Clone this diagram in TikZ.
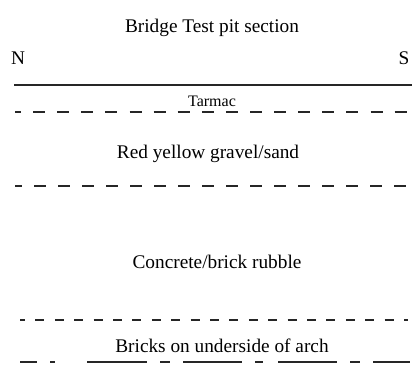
\documentclass[tikz,border=0pt]{standalone}
\usepackage{fontspec}
\setmainfont{Liberation Serif}
\begin{document}
\begin{tikzpicture}[x=1pt,y=-1pt,
  lbl/.style={anchor=base,inner sep=0pt,font=\fontsize{19.3}{22}\selectfont},
  smalllbl/.style={anchor=base,inner sep=0pt,font=\fontsize{16}{19}\selectfont},
  layer/.style={line width=1.1pt,black!85}]
\useasboundingbox (0,0) rectangle (414,372);

% headings
\node[lbl] (title) at (212,32) {Bridge Test pit section};
\node[lbl] (north) at (18,64) {N};
\node[lbl] (south) at (404,64) {S};

% ground surface
\coordinate (g1) at (14,85);
\coordinate (g2) at (412,85);
\draw[layer] (g1) -- (g2);

\node[smalllbl] (tarmac) at (212,106) {Tarmac};

% base of tarmac
\coordinate (t1) at (15,112);
\coordinate (t2) at (408,112);
\draw[layer,dash pattern=on 12pt off 12.1pt,dash phase=6pt] (t1) -- (t2);

\node[lbl] (gravel) at (208,158) {Red yellow gravel/sand};

% base of gravel
\coordinate (s1) at (15,186);
\coordinate (s2) at (408,186);
\draw[layer,dash pattern=on 12pt off 12pt,dash phase=5pt] (s1) -- (s2);

\node[lbl] (rubble) at (217,268) {Concrete/brick rubble};

% base of rubble
\coordinate (r1) at (20,320);
\coordinate (r2) at (408,320);
\draw[layer,dash pattern=on 9pt off 10.4pt,dash phase=4pt] (r1) -- (r2);

\node[lbl] (bricks) at (222,352) {Bricks on underside of arch};

% arch soffit
\coordinate (a1) at (20,362);
\coordinate (a2) at (410,362);
\draw[layer,dash pattern=on 17pt off 13pt on 5pt off 32pt on 60pt off 13pt on 10pt off 13pt on 59pt off 13pt on 8pt off 15pt on 59pt off 13pt on 10pt off 13pt on 40pt] (a1) -- (a2);
\end{tikzpicture}
\end{document}
